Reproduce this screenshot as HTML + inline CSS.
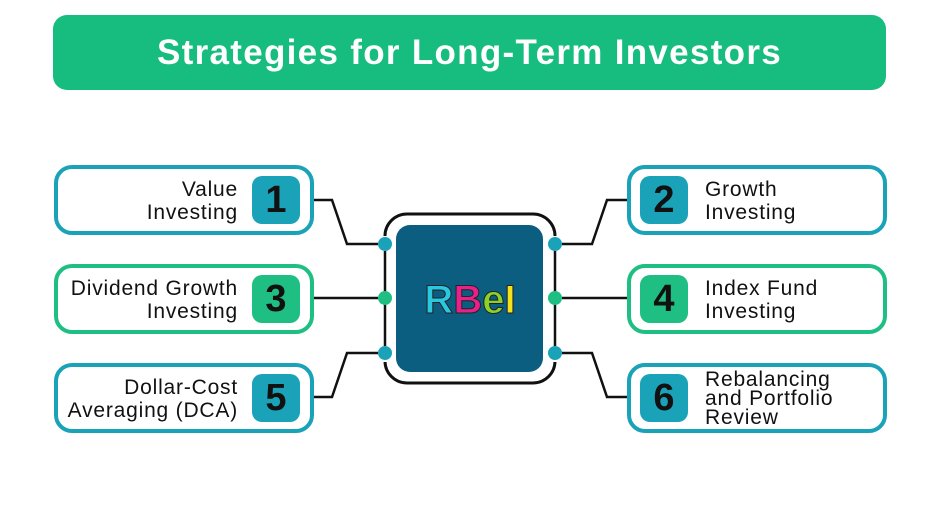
<!DOCTYPE html>
<html><head><style>
body{margin:0;width:940px;height:529px;background:#fff;position:relative;overflow:hidden;font-family:"Liberation Sans",sans-serif}
.title{position:absolute;left:53px;top:15px;width:833px;height:75px;background:#16bd7e;border-radius:14px;color:#fff;font-weight:bold;font-size:35px;text-align:center;line-height:75px;letter-spacing:1.3px}
.box{position:absolute;width:252px;height:62px;border:4px solid #1aa3b8;border-radius:18px;background:#fff}
.g{border-color:#1fbf84}
.badge{position:absolute;top:7px;width:48px;height:48px;border-radius:10px;background:#1aa3b8;color:#111;font-weight:bold;font-size:38px;text-align:center;line-height:48px}
.g .badge{background:#1fbf84}
.txt{position:absolute;font-size:21px;line-height:23px;color:#111;letter-spacing:0.8px;white-space:nowrap}
.L .badge{left:194px}.L .txt{right:72px;text-align:right}
.R .badge{left:9px}.R .txt{left:74px}
</style></head><body>
<div class="title">Strategies for Long-Term Investors</div>
<svg width="940" height="529" style="position:absolute;left:0;top:0">
<rect x="385" y="214" width="170" height="169" rx="22" fill="none" stroke="#111" stroke-width="3"/>
<rect x="396" y="225" width="147" height="147" rx="14" fill="#0b5e80"/>
<g fill="none" stroke="#111" stroke-width="2.5">
<polyline points="313,200 332,200 347,244 378,244"/>
<polyline points="313,298 378,298"/>
<polyline points="313,397 332,397 347,353 378,353"/>
<polyline points="627,200 607,200 592,244 562,244"/>
<polyline points="627,298 562,298"/>
<polyline points="627,397 607,397 592,353 562,353"/>
</g>
<rect x="380" y="236" width="10" height="126" fill="#fff"/>
<rect x="550" y="236" width="10" height="126" fill="#fff"/>
<g stroke="#111" stroke-width="2.5"><line x1="385" y1="251" x2="385" y2="346"/><line x1="555" y1="251" x2="555" y2="346"/></g>
<g fill="#1aa3b8"><circle cx="385" cy="244" r="7"/><circle cx="385" cy="353" r="7"/><circle cx="555" cy="244" r="7"/><circle cx="555" cy="353" r="7"/></g>
<g fill="#1fbf84"><circle cx="385" cy="298" r="7"/><circle cx="555" cy="298" r="7"/></g>
<text x="470" y="313" text-anchor="middle" font-family="Liberation Sans" font-weight="bold" font-size="40" stroke="#222" stroke-width="1"><tspan fill="#29c7e0">R</tspan><tspan fill="#e8208a">B</tspan><tspan fill="#8bd12a">e</tspan><tspan fill="#f2e21c">I</tspan></text>
</svg>
<div class="box L" style="left:54px;top:165px"><div class="txt" style="top:9px">Value<br>Investing</div><div class="badge">1</div></div>
<div class="box L g" style="left:54px;top:264px"><div class="txt" style="top:9px">Dividend Growth<br>Investing</div><div class="badge">3</div></div>
<div class="box L" style="left:54px;top:363px"><div class="txt" style="top:9px">Dollar-Cost<br>Averaging (DCA)</div><div class="badge">5</div></div>
<div class="box R" style="left:627px;top:165px"><div class="txt" style="top:9px">Growth<br>Investing</div><div class="badge">2</div></div>
<div class="box R g" style="left:627px;top:264px"><div class="txt" style="top:9px">Index Fund<br>Investing</div><div class="badge">4</div></div>
<div class="box R" style="left:627px;top:363px"><div class="txt" style="top:3px;line-height:19px">Rebalancing<br>and Portfolio<br>Review</div><div class="badge">6</div></div>
</body></html>
